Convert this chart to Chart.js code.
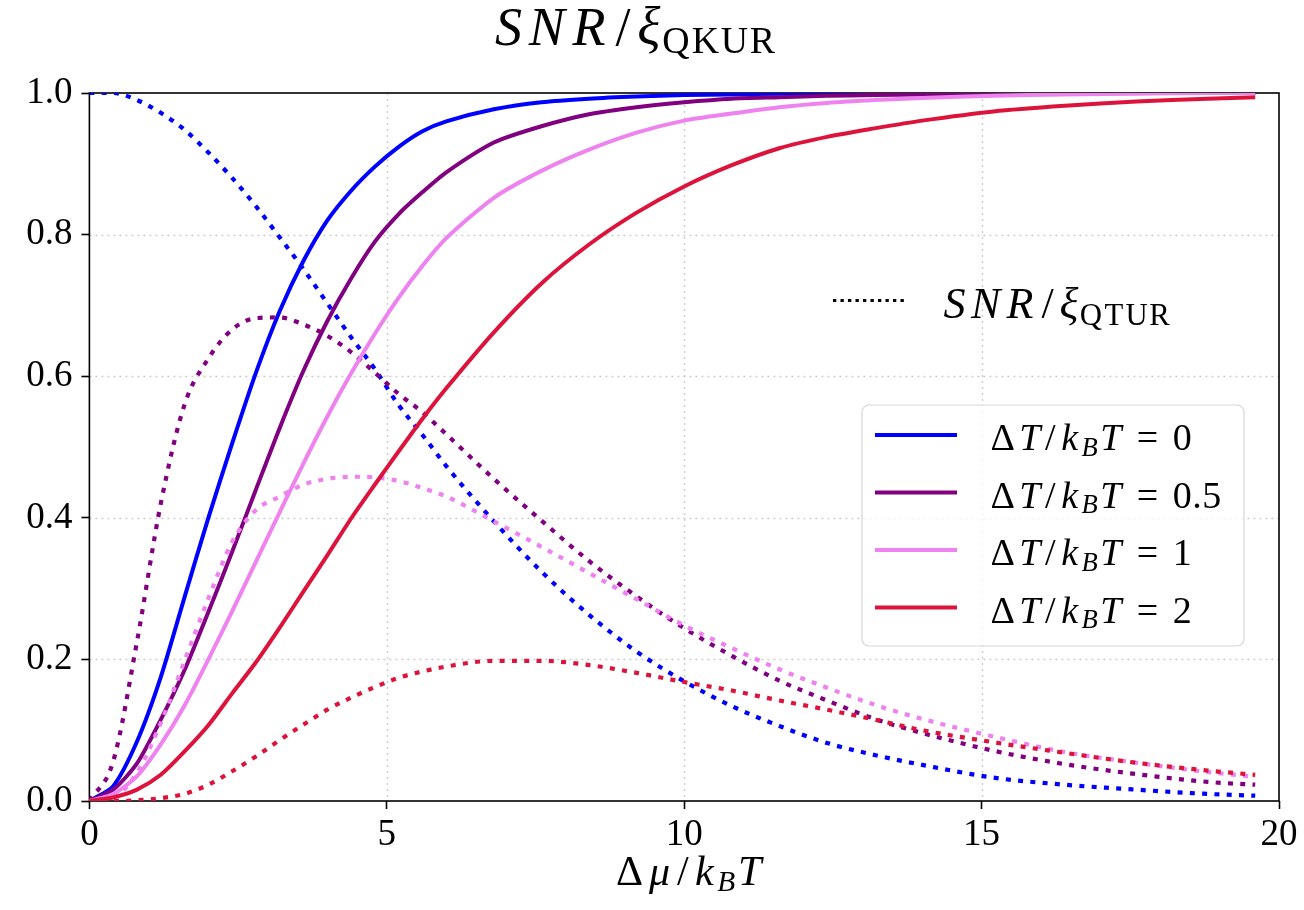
<!DOCTYPE html>
<html>
<head>
<meta charset="utf-8">
<script src="https://cdn.jsdelivr.net/npm/chart.js@4.4.0/dist/chart.umd.min.js"></script>
<style>
  html, body { margin: 0; padding: 0; background: #fff; }
  #wrap { width: 1304px; height: 910px; position: relative; }
</style>
</head>
<body>
<div id="wrap"><canvas id="chart"></canvas></div>
<script>
// x values (Δμ/k_BT)
const mu = [0, 0.4, 0.8, 1.2, 1.6, 2, 2.4, 2.8, 3.2, 3.6, 4, 4.4, 4.8, 5.2, 5.6, 6,
  6.8, 7.6, 8.4, 9.2, 10, 10.8, 11.6, 12.4, 13.2, 14, 15.2, 16.4, 17.6, 18.8, 19.6];

// SNR / xi_QKUR (solid)
const qkur0  = [0, 0.021, 0.084, 0.175, 0.288, 0.400, 0.505, 0.605, 0.692, 0.763, 0.820, 0.862, 0.896, 0.924, 0.946, 0.960,
  0.977, 0.987, 0.992, 0.995, 0.997, 0.998, 0.999, 1, 1, 1, 1, 1, 1, 1, 1];
const qkur05 = [0, 0.016, 0.053, 0.115, 0.185, 0.267, 0.352, 0.440, 0.527, 0.608, 0.678, 0.738, 0.790, 0.829, 0.860, 0.888,
  0.930, 0.953, 0.970, 0.980, 0.987, 0.992, 0.994, 0.996, 0.997, 0.998, 0.999, 1, 1, 1, 1];
const qkur1  = [0, 0.010, 0.035, 0.080, 0.135, 0.200, 0.268, 0.338, 0.408, 0.477, 0.543, 0.604, 0.660, 0.711, 0.756, 0.795,
  0.852, 0.890, 0.920, 0.944, 0.961, 0.971, 0.980, 0.986, 0.990, 0.993, 0.996, 0.998, 0.999, 1, 1];
const qkur2  = [0, 0.005, 0.016, 0.037, 0.070, 0.107, 0.152, 0.196, 0.245, 0.296, 0.347, 0.399, 0.447, 0.494, 0.540, 0.583,
  0.662, 0.731, 0.786, 0.831, 0.868, 0.898, 0.922, 0.938, 0.950, 0.961, 0.974, 0.982, 0.988, 0.992, 0.994];

// SNR / xi_QTUR (dotted)
const qtur0  = [1, 1, 0.990, 0.972, 0.948, 0.916, 0.880, 0.840, 0.796, 0.751, 0.703, 0.655, 0.610, 0.559, 0.517, 0.473,
  0.395, 0.324, 0.263, 0.211, 0.169, 0.134, 0.106, 0.082, 0.065, 0.051, 0.033, 0.023, 0.016, 0.010, 0.0075];
const qtur05 = [0, 0.056, 0.225, 0.420, 0.560, 0.625, 0.666, 0.682, 0.683, 0.673, 0.657, 0.634, 0.605, 0.575, 0.549, 0.518,
  0.455, 0.396, 0.339, 0.289, 0.244, 0.205, 0.170, 0.142, 0.116, 0.096, 0.071, 0.052, 0.038, 0.027, 0.023];
const qtur1  = [0, 0.005, 0.040, 0.110, 0.198, 0.286, 0.366, 0.411, 0.430, 0.447, 0.455, 0.458, 0.457, 0.452, 0.442, 0.430,
  0.395, 0.359, 0.322, 0.285, 0.248, 0.216, 0.186, 0.160, 0.136, 0.116, 0.091, 0.069, 0.054, 0.041, 0.034];
const qtur2  = [0, 0, 0.001, 0.004, 0.010, 0.023, 0.042, 0.063, 0.086, 0.108, 0.129, 0.146, 0.161, 0.174, 0.183, 0.190,
  0.198, 0.198, 0.192, 0.181, 0.168, 0.156, 0.142, 0.129, 0.115, 0.100, 0.083, 0.068, 0.054, 0.043, 0.037];

const dTlabels = ['0', '0.5', '1', '2'];
const colors = ['#0000ff', '#800080', '#ee82ee', '#dc143c'];
const solidSeries = [qkur0, qkur05, qkur1, qkur2];
const dottedSeries = [qtur0, qtur05, qtur1, qtur2];

const xTicks = [0, 5, 10, 15, 20];
const yTicks = [0, 0.2, 0.4, 0.6, 0.8, 1.0];

const FONT = '"Liberation Serif", "DejaVu Serif", serif';

function pts(arr) {
  return mu.map((x, i) => ({ x: x, y: arr[i] }));
}

// solid then dotted for each ΔT, later ones drawn on top (like matplotlib)
const datasets = [];
colors.forEach((c, i) => {
  datasets.push({ data: pts(solidSeries[i]), borderColor: c, borderWidth: 4, pointRadius: 0,
    tension: 0.25, fill: false });
  datasets.push({ data: pts(dottedSeries[i]), borderColor: c, borderWidth: 4.2, borderDash: [5, 7.3],
    borderCapStyle: 'butt', pointRadius: 0, cubicInterpolationMode: 'monotone', fill: false });
});
datasets.forEach((d, i) => { d.order = datasets.length - i; });

// math-like text: each glyph gets a TeX-ish advance width (em)
function g(t, ital, adv, sub) { return { t, ital, adv, sub: !!sub }; }

function mathText(ctx, parts, x, y, size) {
  let cx = x;
  ctx.textAlign = 'left';
  ctx.textBaseline = 'alphabetic';
  ctx.fillStyle = '#000';
  parts.forEach(p => {
    const sz = p.sub ? size * 0.7 : size;
    ctx.font = (p.ital ? 'italic ' : '') + sz.toFixed(1) + 'px ' + FONT;
    const w = ctx.measureText(p.t).width;
    const adv = Math.max(p.adv * sz, w);
    ctx.fillText(p.t, cx + (adv - w) / 2, y + (p.sub ? size * 0.15 : 0));
    cx += adv;
  });
}

const snr = [g('S', true, 0.613), g('N', true, 0.803), g('R', true, 0.759), g('/', false, 0.5), g('ξ', true, 0.46)];
const titleParts = snr.concat([g('Q', false, 0.778, 1), g('K', false, 0.778, 1), g('U', false, 0.75, 1), g('R', false, 0.736, 1)]);
const keyParts = snr.concat([g('Q', false, 0.778, 1), g('T', false, 0.722, 1), g('U', false, 0.75, 1), g('R', false, 0.736, 1)]);
const xlabelParts = [g('Δ', false, 0.833), g('μ', true, 0.603), g('/', false, 0.5), g('k', true, 0.521),
  g('B', true, 0.759, 1), g('T', true, 0.584)];
function dTParts(v) {
  const p = [g('Δ', false, 0.833), g('T', true, 0.584), g('/', false, 0.5), g('k', true, 0.521),
    g('B', true, 0.759, 1), g('T', true, 0.584), g('=', false, 1.334)];
  v.split('').forEach(ch => p.push(g(ch, false, ch === '.' ? 0.278 : 0.5)));
  return p;
}

const decor = {
  id: 'decor',
  beforeDatasetsDraw(chart) {
    const { ctx, chartArea: a, scales } = chart;
    ctx.save();
    // dotted grid
    ctx.strokeStyle = '#cccccc';
    ctx.lineWidth = 1.4;
    ctx.setLineDash([2, 4]);
    xTicks.slice(1, -1).forEach(v => {
      const px = Math.round(scales.x.getPixelForValue(v)) + 0.5;
      ctx.beginPath(); ctx.moveTo(px, a.top); ctx.lineTo(px, a.bottom); ctx.stroke();
    });
    yTicks.slice(1, -1).forEach(v => {
      const py = Math.round(scales.y.getPixelForValue(v)) + 0.5;
      ctx.beginPath(); ctx.moveTo(a.left, py); ctx.lineTo(a.right, py); ctx.stroke();
    });
    // axes frame
    ctx.setLineDash([]);
    ctx.strokeStyle = '#000';
    ctx.lineWidth = 1.6;
    ctx.strokeRect(a.left, a.top, a.right - a.left, a.bottom - a.top);
    ctx.restore();
  },
  afterDatasetsDraw(chart) {
    const { ctx } = chart;
    ctx.save();

    // QTUR style key
    ctx.strokeStyle = '#000';
    ctx.lineWidth = 3;
    ctx.setLineDash([3.3, 4.2]);
    ctx.beginPath(); ctx.moveTo(833, 300.5); ctx.lineTo(908, 300.5); ctx.stroke();
    ctx.setLineDash([]);
    mathText(ctx, keyParts, 941, 318, 44);

    // legend box
    const bx = 862, by = 405, bw = 382, bh = 241, r = 7;
    ctx.beginPath();
    ctx.moveTo(bx + r, by);
    ctx.arcTo(bx + bw, by, bx + bw, by + bh, r);
    ctx.arcTo(bx + bw, by + bh, bx, by + bh, r);
    ctx.arcTo(bx, by + bh, bx, by, r);
    ctx.arcTo(bx, by, bx + bw, by, r);
    ctx.closePath();
    ctx.fillStyle = 'rgba(255,255,255,0.8)';
    ctx.fill();
    ctx.strokeStyle = '#d6d6d6';
    ctx.lineWidth = 1.2;
    ctx.stroke();

    const rows = [435, 492.5, 550, 607.5];
    rows.forEach((ry, i) => {
      ctx.strokeStyle = colors[i];
      ctx.lineWidth = 4;
      ctx.beginPath(); ctx.moveTo(875, ry); ctx.lineTo(957, ry); ctx.stroke();
      mathText(ctx, dTParts(dTlabels[i]), 987, ry + 15, 38);
    });

    ctx.restore();
  },
  afterDraw(chart) {
    const { ctx } = chart;
    ctx.save();
    mathText(ctx, titleParts, 492, 45, 54);
    mathText(ctx, xlabelParts, 612, 885, 42);
    ctx.restore();
  }
};

new Chart(document.getElementById('chart'), {
  type: 'line',
  data: { datasets: datasets },
  options: {
    responsive: true,
    maintainAspectRatio: false,
    animation: false,
    layout: { padding: { top: 93, right: 25, left: 0, bottom: 0 } },
    plugins: { legend: { display: false }, title: { display: false }, tooltip: { enabled: false } },
    scales: {
      x: {
        type: 'linear', min: 0, max: 20,
        afterBuildTicks: s => { s.ticks = xTicks.map(v => ({ value: v })); },
        afterFit: s => { s.height = 109; },
        grid: { drawOnChartArea: false, drawTicks: true, tickLength: 8, tickColor: '#000', tickWidth: 1.6 },
        border: { display: false },
        ticks: { color: '#000', font: { family: FONT, size: 37 }, padding: 4, maxRotation: 0,
          callback: v => String(v) }
      },
      y: {
        type: 'linear', min: 0, max: 1,
        afterBuildTicks: s => { s.ticks = yTicks.map(v => ({ value: v })); },
        afterFit: s => { s.width = 89.4; },
        grid: { drawOnChartArea: false, drawTicks: true, tickLength: 8, tickColor: '#000', tickWidth: 1.6 },
        border: { display: false },
        ticks: { color: '#000', font: { family: FONT, size: 37 }, padding: 9,
          callback: v => v.toFixed(1) }
      }
    }
  },
  plugins: [decor]
});
</script>
</body>
</html>
